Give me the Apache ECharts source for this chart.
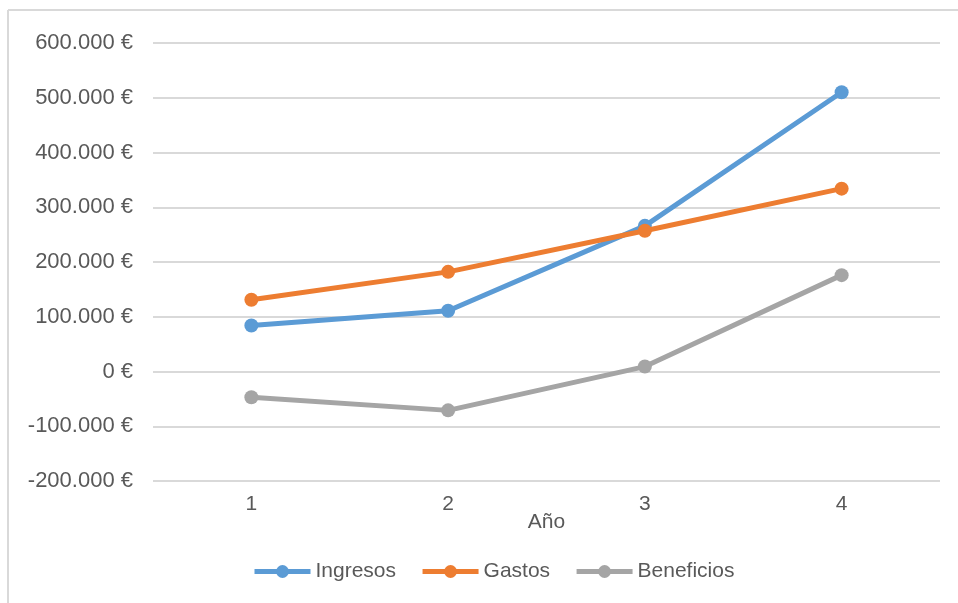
<!DOCTYPE html>
<html>
<head>
<meta charset="utf-8">
<script src="https://cdn.jsdelivr.net/npm/echarts@6/dist/echarts.min.js"></script>
<style>
  html, body { margin: 0; padding: 0; background: #fff; }
  #chart { width: 958px; height: 603px; }
</style>
</head>
<body>
<div id="chart"></div>
<script>
// Years on the category axis
const years = ['1', '2', '3', '4'];

// Annual figures in euros
const ingresos = [84000, 111000, 266000, 510000];
const gastos = [131000, 182000, 257000, 334000];
const beneficios = [-47000, -71000, 9000, 176000];

// Value axis range and step
const yMin = -200000;
const yMax = 600000;
const yStep = 100000;

const seriesNames = ['Ingresos', 'Gastos', 'Beneficios'];
const seriesColors = ['#5B9BD5', '#ED7D31', '#A5A5A5'];
const seriesData = [ingresos, gastos, beneficios];

const fontFamily = '"Liberation Sans", Arial, sans-serif';
const textColor = '#595959';
const fontSize = 21;

function formatEuro(v) {
  if (v === 0) return '0 €';
  const sign = v < 0 ? '-' : '';
  const s = Math.abs(v).toString().replace(/\B(?=(\d{3})+(?!\d))/g, '.');
  return sign + s + ' €';
}

const chart = echarts.init(document.getElementById('chart'), null, { renderer: 'canvas' });

chart.setOption({
  backgroundColor: '#ffffff',
  animation: false,
  textStyle: { fontFamily: fontFamily },
  graphic: [
    { type: 'line', shape: { x1: 8, y1: 10, x2: 958, y2: 10 }, style: { stroke: '#d9d9d9', lineWidth: 2 } },
    { type: 'line', shape: { x1: 8, y1: 10, x2: 8, y2: 603 }, style: { stroke: '#d9d9d9', lineWidth: 2 } }
  ],
  grid: { left: 153, right: 18, top: 43, bottom: 122, containLabel: false },
  legend: {
    data: seriesNames,
    top: 556,
    left: 247,
    itemWidth: 56,
    itemHeight: 16,
    itemGap: 24,
    lineStyle: { width: 5 },
    textStyle: { color: textColor, fontSize: fontSize, fontFamily: fontFamily }
  },
  xAxis: {
    type: 'category',
    data: years,
    boundaryGap: true,
    name: 'Año',
    nameLocation: 'middle',
    nameGap: 31,
    nameMoveOverlap: false,
    nameTextStyle: { color: textColor, fontSize: fontSize, fontFamily: fontFamily },
    axisLine: { show: false },
    axisTick: { show: false },
    axisLabel: { color: textColor, fontSize: fontSize, margin: 13, fontFamily: fontFamily }
  },
  yAxis: {
    type: 'value',
    min: yMin,
    max: yMax,
    interval: yStep,
    axisLine: { show: false },
    axisTick: { show: false },
    axisLabel: {
      color: textColor,
      fontSize: 22,
      margin: 20,
      fontFamily: fontFamily,
      formatter: formatEuro
    },
    splitLine: { lineStyle: { color: '#d9d9d9', width: 2 } }
  },
  series: seriesNames.map((name, i) => ({
    name: name,
    type: 'line',
    data: seriesData[i],
    color: seriesColors[i],
    symbol: 'circle',
    symbolSize: 14,
    lineStyle: { width: 5, color: seriesColors[i] },
    itemStyle: { color: seriesColors[i] },
    z: 2 + i
  }))
});
</script>
</body>
</html>
